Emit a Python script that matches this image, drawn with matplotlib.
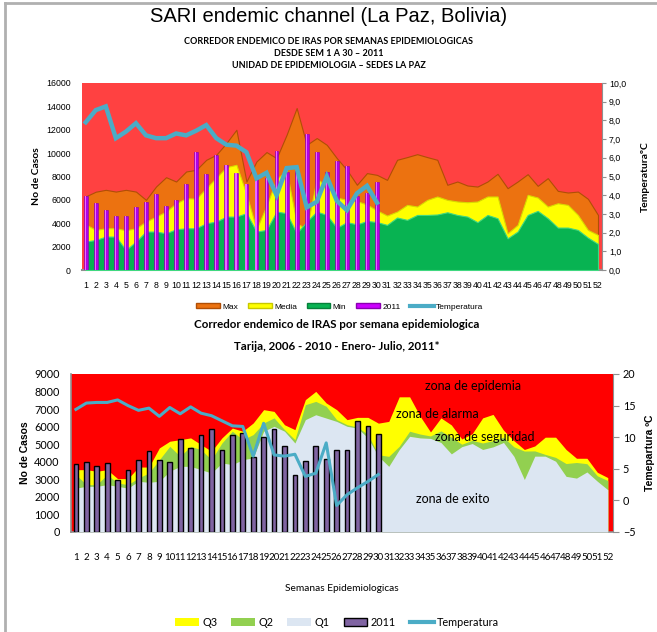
import matplotlib
matplotlib.use("Agg")
import matplotlib.pyplot as plt
from matplotlib.patches import Patch
from matplotlib.lines import Line2D

# --- fuentes ---
NARROW = ['Lato', 'DejaVu Sans']
ARIAL = ['Liberation Sans', 'DejaVu Sans']

# --- datos: La Paz ---
weeks = list(range(1, 53))
lp_max = [6300, 6700, 6860, 6710, 6860, 6710, 6000, 7140, 7940, 7570,
          8430, 8570, 9430, 9860, 10860, 12000, 7570, 9290, 10090, 9570,
          11570, 13860, 10710, 11290, 10710, 9570, 8570, 7290, 8290, 8140,
          7710, 9430, 9660, 9910, 9660, 9430, 7290, 7570, 7230, 7140,
          7570, 8230, 7000, 7570, 8200, 7200, 7860, 6770, 6630, 6710,
          6090, 4710]
lp_media = [3900, 3430, 3570, 3570, 3400, 3570, 4140, 4570, 5000, 5710,
            6140, 6100, 7000, 7900, 8800, 9000, 6500, 3500, 5500, 7800,
            8500, 4000, 3500, 7800, 7200, 6200, 6000, 5900, 5600, 5100,
            4660, 5000, 5570, 5430, 6000, 6290, 6000, 5860, 5800, 5860,
            6290, 6290, 3140, 3860, 6430, 6200, 5430, 5710, 5570, 4710,
            3430, 3000]
lp_min = [2430, 2570, 2860, 2860, 1710, 2430, 3290, 3290, 3140, 3490,
          3570, 3570, 4000, 4140, 4570, 4570, 4860, 3290, 3430, 5000,
          4860, 3140, 4140, 5000, 4710, 3600, 4100, 3900, 4200, 4100,
          3860, 4490, 4290, 4710, 4710, 4750, 4940, 4710, 4570, 4090,
          4710, 4430, 2710, 3290, 4710, 5060, 4430, 3630, 3630, 3430,
          2770, 2230]
lp_2011 = [6290, 5710, 5140, 4630, 4630, 5430, 5860, 6490, 5490, 6000,
           7340, 10060, 8230, 9800, 9000, 8340, 7340, 8000, 7900, 10200,
           8400, 8500, 11630, 10060, 8370, 9290, 8940, 6290, 6570, 7570]
lp_temp = [7.9, 8.55, 8.75, 7.05, 7.4, 7.85, 7.2, 7.05, 7.05, 7.3,
           7.2, 7.45, 7.75, 7.05, 6.7, 6.65, 6.3, 4.9, 5.2, 4.0,
           5.45, 5.5, 3.35, 3.65, 5.0, 3.7, 3.2, 4.1, 4.5, 3.6]

# --- datos: Tarija ---
tj_q3 = [3550, 3550, 3460, 3550, 3040, 3040, 3700, 3700, 4790, 5170,
         5260, 5360, 4980, 4600, 5360, 5920, 5740, 6210, 6970, 6870,
         6110, 5830, 7540, 8010, 7350, 6970, 6400, 6530, 6530, 6200,
         6300, 7700, 7700, 6600, 5700, 6500, 6100, 5300, 5600, 6500,
         6700, 5800, 5200, 4700, 4900, 5400, 5400, 4700, 4200, 4200,
         3400, 3100]
tj_q2 = [3270, 2700, 2700, 3270, 2790, 2700, 3080, 3360, 4120, 4880,
         4310, 4880, 4690, 4120, 5070, 5740, 5260, 5550, 6210, 6500,
         5830, 5260, 7250, 7440, 7160, 6400, 6110, 5980, 5550, 4400,
         4310, 4880, 5740, 5580, 5470, 5760, 5400, 5000, 5220, 5070,
         5200, 5400, 4850, 4610, 4620, 4420, 4250, 3900, 3960, 3890,
         3200, 2930]
tj_q1 = [2500, 2600, 2600, 2700, 2600, 2500, 2890, 2830, 2890, 3460,
         3740, 3740, 3550, 3360, 3930, 3840, 4120, 4220, 5740, 6020,
         5740, 5070, 6400, 6680, 6490, 6300, 6020, 5920, 5360, 4310,
         3740, 4690, 5450, 5360, 5330, 5100, 4450, 4860, 5040, 4700,
         4850, 5100, 4310, 2990, 4320, 4320, 4030, 3170, 3070, 3420,
         2890, 2410]
tj_2011 = [3870, 3970, 3740, 3910, 2940, 3550, 4100, 4600, 4100, 3970,
           5320, 4770, 5550, 5850, 4650, 5510, 5620, 4300, 5390, 5850,
           4900, 3270, 4030, 4900, 4180, 4650, 4650, 6340, 6060, 5560]
tj_temp = [14.4, 15.4, 15.5, 15.5, 15.9, 15.0, 14.25, 14.6, 13.3, 14.7,
           13.7, 14.8, 13.8, 13.4, 12.6, 11.8, 11.7, 7.0, 12.2, 7.2,
           7.0, 7.3, 3.8, 4.3, 9.1, -0.8, 0.9, 2.0, 3.0, 4.1]

zonas = ['zona de epidemia', 'zona de alarma', 'zona de seguridad', 'zona de exito']

W, H = 657, 632
fig = plt.figure(figsize=(W / 100, H / 100), dpi=100)


def box(x0, y0, x1, y1):
    return [x0 / W, 1 - y1 / H, (x1 - x0) / W, (y1 - y0) / H]


# marco gris
fig.add_artist(Line2D([5 / W, 5 / W], [0, 1 - 3 / H], color='#b0b0b0', lw=2))
fig.add_artist(Line2D([5 / W, 1], [1 - 3 / H, 1 - 3 / H], color='#b0b0b0', lw=2))

# --- textos superiores ---
fig.text(0.5, 1 - 17 / H, 'SARI endemic channel (La Paz, Bolivia)', ha='center', va='center',
         fontsize=14.5, family=ARIAL)
for yy, s in [(42, 'CORREDOR ENDEMICO DE IRAS POR SEMANAS EPIDEMIOLOGICAS'),
              (54, 'DESDE SEM 1 A 30 \u2013 2011'),
              (65, 'UNIDAD DE EPIDEMIOLOGIA \u2013 SEDES LA PAZ')]:
    fig.text(0.5, 1 - yy / H, s, ha='center', va='center', fontsize=6.5, fontweight='bold', family=NARROW)

# ================= La Paz =================
ax1 = fig.add_axes(box(82, 83, 602, 270))
ax1.set_facecolor('#FF4141')
ax1.fill_between(weeks, 0, lp_max, color='#EC7210', edgecolor='#B04E05', lw=0.8, zorder=1)
ax1.fill_between(weeks, 0, lp_media, color='#FFFF00', edgecolor='#D8D800', lw=0.8, zorder=2)
ax1.fill_between(weeks, 0, lp_min, color='#08B352', edgecolor='#40D880', lw=0.8, zorder=3)
wk30 = weeks[:len(lp_2011)]
ax1.bar(wk30, lp_2011, width=0.38, color='#B200E6', edgecolor='#8A00B0', lw=0.4, zorder=4)
ax1.bar([w - 0.04 for w in wk30], lp_2011, width=0.12, color='#E86CFF', lw=0, zorder=5)
ax1.set_xlim(0.63, 52.4)
ax1.set_ylim(0, 16000)
ax1.set_yticks(range(0, 16001, 2000))
ax1.set_xticks(weeks)
ax1.set_xticklabels([str(w) for w in weeks], fontsize=6.3, family=ARIAL)
ax1.tick_params(axis='x', length=0, pad=8)
ax1.tick_params(axis='y', length=0, labelsize=6.3, pad=8)
for lab in ax1.get_yticklabels():
    lab.set_family(ARIAL)
for s in ['top', 'right', 'left']:
    ax1.spines[s].set_visible(False)
ax1.spines['bottom'].set_color('#909090')
ax1.spines['bottom'].set_linewidth(1.5)
ax1.set_ylabel('No de Casos', fontsize=7.5, fontweight='bold', family=NARROW, labelpad=4)

ax1r = ax1.twinx()
ax1r.plot(wk30, lp_temp, color='#4BACC6', lw=3.2, solid_joinstyle='miter', zorder=6)
ax1r.set_ylim(0, 10)
ax1r.set_yticks(range(0, 11))
ax1r.set_yticklabels(['%d,0' % v for v in range(0, 11)], fontsize=6.3, family=ARIAL)
ax1r.tick_params(axis='y', length=3, color='#909090', pad=2)
for s in ['top', 'left', 'bottom']:
    ax1r.spines[s].set_visible(False)
ax1r.spines['right'].set_color('#909090')
ax1r.set_ylabel('Temperatura\u00baC', fontsize=7.5, fontweight='bold', family=NARROW, labelpad=11)

leg1 = [Patch(facecolor='#EC7210', edgecolor='#B04E05', label='Max'),
        Patch(facecolor='#FFFF00', edgecolor='#C8C800', label='Media'),
        Patch(facecolor='#08B352', edgecolor='#06803A', label='Min'),
        Patch(facecolor='#CC00FF', edgecolor='#8A00B0', label='2011'),
        Line2D([0], [0], color='#4BACC6', lw=3, label='Temperatura')]
fig.legend(handles=leg1, loc='center', bbox_to_anchor=(340 / W, 1 - 307 / H), ncol=5, frameon=False,
           handlelength=2.8, handleheight=0.5, columnspacing=1.2, handletextpad=0.3,
           prop={'family': ARIAL, 'size': 6})

fig.text(337 / W, 1 - 325 / H, 'Corredor endemico de IRAS por semana epidemiologica', ha='center',
         va='center', fontsize=8.3, fontweight='bold', family=NARROW)
fig.text(337 / W, 1 - 346 / H, 'Tarija, 2006 - 2010 - Enero- Julio, 2011*', ha='center',
         va='center', fontsize=8.3, fontweight='bold', family=NARROW)

# ================= Tarija =================
ax2 = fig.add_axes(box(70.7, 374, 613, 532))
ax2.set_facecolor('#FF0000')
ax2.fill_between(weeks, 0, tj_q3, color='#FFFF00', lw=0, zorder=1)
ax2.fill_between(weeks, 0, tj_q2, color='#92D050', lw=0, zorder=2)
ax2.fill_between(weeks, 0, tj_q1, color='#DCE6F2', lw=0, zorder=3)
ax2.bar(wk30, tj_2011, width=0.45, color='#8064A2', edgecolor='black', lw=1, zorder=4)
ax2.set_xlim(0.5, 52.5)
ax2.set_ylim(0, 9000)
ax2.set_yticks(range(0, 9001, 1000))
ax2.set_xticks(weeks)
ax2.set_xticklabels([str(w) for w in weeks], fontsize=7.0, family=NARROW)
ax2.tick_params(axis='x', length=0, pad=15)
ax2.tick_params(axis='y', length=0, labelsize=7.8, pad=8)
for lab in ax2.get_yticklabels():
    lab.set_family(NARROW)
for s in ['top', 'right']:
    ax2.spines[s].set_visible(False)
for s in ['left', 'bottom']:
    ax2.spines[s].set_color('#909090')
    ax2.spines[s].set_linewidth(1.2)
ax2.set_ylabel('No de Casos', fontsize=7.5, fontweight='bold', family=ARIAL, labelpad=3)
ax2.set_xlabel('Semanas Epidemiologicas', fontsize=7.3, family=NARROW, labelpad=16)

ax2r = ax2.twinx()
ax2r.plot(wk30, tj_temp, color='#4BACC6', lw=2.2, zorder=6)
ax2r.set_ylim(-5, 20)
ax2r.set_yticks(range(-5, 21, 5))
ax2r.tick_params(axis='y', length=4, color='#909090', labelsize=7.8, pad=3)
for lab in ax2r.get_yticklabels():
    lab.set_family(NARROW)
for s in ['top', 'left', 'bottom']:
    ax2r.spines[s].set_visible(False)
ax2r.spines['right'].set_color('#909090')
ax2r.set_ylabel('Temepartura \u00baC', fontsize=7.5, fontweight='bold', family=ARIAL, labelpad=7)

# posiciones de las etiquetas de zona (semana, temperatura)
zona_x = [39.1, 35.7, 40.2, 37.1]
zona_y = [18.1, 13.7, 10.0, 0.2]
for txt, xw, yt in zip(zonas, zona_x, zona_y):
    ax2r.text(xw, yt, txt, fontsize=9, family=NARROW, ha='center', va='center', zorder=7)

leg2 = [Patch(facecolor='#FFFF00', label='Q3'),
        Patch(facecolor='#92D050', label='Q2'),
        Patch(facecolor='#DCE6F2', label='Q1'),
        Patch(facecolor='#8064A2', edgecolor='black', label='2011'),
        Line2D([0], [0], color='#4BACC6', lw=3, label='Temperatura')]
fig.legend(handles=leg2, loc='center', bbox_to_anchor=(337 / W, 1 - 622 / H), ncol=5, frameon=False,
           handlelength=2.2, handleheight=0.8, columnspacing=1.3, handletextpad=0.3,
           prop={'family': NARROW, 'size': 7.8})

fig.savefig('out.png', dpi=100)
